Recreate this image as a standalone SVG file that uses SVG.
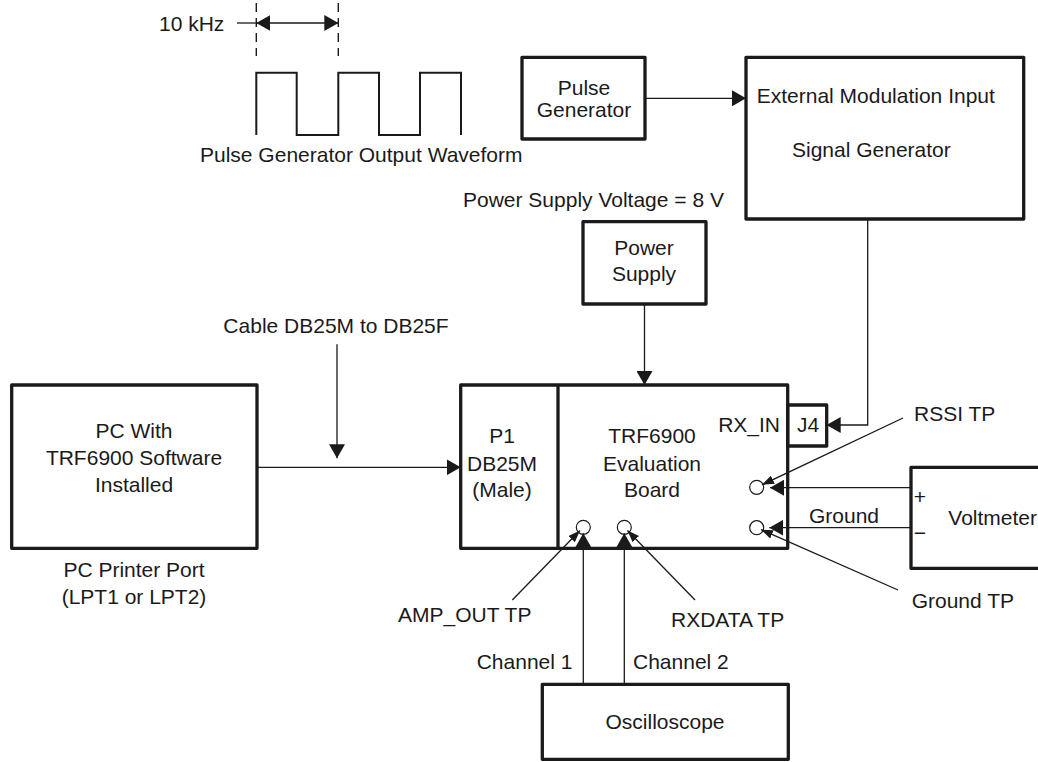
<svg xmlns="http://www.w3.org/2000/svg" width="1038" height="762" viewBox="0 0 1038 762">
<style>
text{font-family:"Liberation Sans",Arial,Helvetica,sans-serif;font-size:21px;fill:#1a1a1a}
.c{text-anchor:middle}
.e{text-anchor:end}
.box{fill:none;stroke:#1a1a1a;stroke-width:3.3;stroke-linejoin:round}
.ln{fill:none;stroke:#1a1a1a;stroke-width:1.3}
.big{marker-end:url(#ah)}
.lead{marker-end:url(#sh)}
.tp{fill:#fff;stroke:#1a1a1a;stroke-width:1.2}
.dash{fill:none;stroke:#1a1a1a;stroke-width:1.4;stroke-dasharray:9 6}
</style>
<defs>
<marker id="ah" markerUnits="userSpaceOnUse" markerWidth="14" markerHeight="16" refX="14" refY="8" orient="auto-start-reverse" viewBox="0 0 14 16">
<path d="M0,0 L14,8 L0,16 Z" fill="#1a1a1a"/>
</marker>
<marker id="sh" markerUnits="userSpaceOnUse" markerWidth="12" markerHeight="9" refX="12" refY="4.5" orient="auto" viewBox="0 0 12 9">
<path d="M0,0 L12,4.5 L0,9 Z" fill="#1a1a1a"/>
</marker>
</defs>

<g id="waveform">
<text x="159" y="31">10 kHz</text>
<line class="ln" x1="237" y1="23" x2="256.3" y2="23"/>
<line class="dash" x1="256.3" y1="3" x2="256.3" y2="56"/>
<line class="dash" x1="338.3" y1="3" x2="338.3" y2="56"/>
<line class="ln" x1="256.3" y1="23" x2="338.3" y2="23" marker-start="url(#ah)" marker-end="url(#ah)"/>
<path d="M256.3,135 V72.7 H296.7 V135 H338.3 V72.7 H379 V135 H420 V72.7 H461 V135" fill="none" stroke="#1a1a1a" stroke-width="2"/>
<text x="200" y="162">Pulse Generator Output Waveform</text>
</g>

<g id="pulse-generator">
<rect class="box" x="522" y="57.3" width="123" height="81.7"/>
<text class="c" x="584" y="95">Pulse</text>
<text class="c" x="584" y="117.3">Generator</text>
</g>

<g id="signal-generator">
<rect class="box" x="746" y="57.3" width="277.7" height="161.7"/>
<text x="756.7" y="103.3">External Modulation Input</text>
<text x="792" y="157.3">Signal Generator</text>
</g>

<text x="463" y="206.7">Power Supply Voltage = 8 V</text>

<g id="power-supply">
<rect class="box" x="583" y="221.7" width="123" height="82.3"/>
<text class="c" x="644" y="255">Power</text>
<text class="c" x="644" y="280.7">Supply</text>
</g>

<g id="pc">
<rect class="box" x="11.7" y="385" width="245.3" height="163.3"/>
<text class="c" x="134" y="438.3">PC With</text>
<text class="c" x="134" y="465">TRF6900 Software</text>
<text class="c" x="134" y="491.7">Installed</text>
<text class="c" x="134" y="576.7">PC Printer Port</text>
<text class="c" x="134" y="603.5">(LPT1 or LPT2)</text>
</g>

<text class="c" x="336" y="333.3">Cable DB25M to DB25F</text>

<g id="board">
<rect class="box" x="460.7" y="385" width="327" height="163.3"/>
<line class="box" x1="558" y1="385" x2="558" y2="548.3"/>
<text class="c" x="502" y="443.3">P1</text>
<text class="c" x="502" y="470.7">DB25M</text>
<text class="c" x="502" y="496.7">(Male)</text>
<text class="c" x="652" y="443.3">TRF6900</text>
<text class="c" x="652" y="470.7">Evaluation</text>
<text class="c" x="652" y="496.7">Board</text>
<text class="e" x="780" y="432.3">RX_IN</text>
<circle class="tp" cx="583.3" cy="527.3" r="7"/>
<circle class="tp" cx="624.3" cy="527.3" r="7"/>
<circle class="tp" cx="756.7" cy="487.3" r="7"/>
<circle class="tp" cx="756.7" cy="527.7" r="7"/>
</g>

<g id="j4">
<rect class="box" x="787.7" y="405" width="39" height="41"/>
<text class="c" x="808" y="431.7">J4</text>
</g>

<g id="voltmeter">
<rect class="box" x="911" y="467.3" width="140" height="101"/>
<text class="c" x="920" y="504">+</text>
<text class="c" x="920" y="540">−</text>
<text x="948.3" y="525">Voltmeter</text>
</g>

<g id="oscilloscope">
<rect class="box" x="542.3" y="684.3" width="246" height="75"/>
<text class="c" x="665" y="729">Oscilloscope</text>
</g>

<g id="labels">
<text x="914" y="420.7">RSSI TP</text>
<text x="911.7" y="608.3">Ground TP</text>
<text x="809" y="523.3">Ground</text>
<text x="398" y="621.7">AMP_OUT TP</text>
<text x="671" y="627">RXDATA TP</text>
<text x="476.7" y="669.3">Channel 1</text>
<text x="633" y="669.3">Channel 2</text>
</g>

<g id="connectors">
<line class="ln big" x1="645" y1="98.3" x2="746" y2="98.3"/>
<line class="ln big" x1="644.5" y1="304" x2="644.5" y2="385"/>
<polyline class="ln big" points="867.7,219 867.7,425 826.7,425"/>
<line class="ln big" x1="257" y1="467.3" x2="460.7" y2="467.3"/>
<line class="ln big" x1="337" y1="344.3" x2="337" y2="458.3"/>
<line class="ln big" x1="911" y1="487.7" x2="770" y2="487.7"/>
<line class="ln big" x1="911" y1="527.7" x2="769.3" y2="527.7"/>
<line class="ln big" x1="583.3" y1="684.3" x2="583.3" y2="533.3"/>
<line class="ln big" x1="624.3" y1="684.3" x2="624.3" y2="533.3"/>
<line class="ln lead" x1="512.3" y1="600" x2="580" y2="530.5"/>
<line class="ln lead" x1="695" y1="600" x2="627.5" y2="530.5"/>
<line class="ln lead" x1="903" y1="418" x2="762" y2="484.8"/>
<line class="ln lead" x1="898" y1="590" x2="761" y2="529.6"/>
</g>
</svg>
